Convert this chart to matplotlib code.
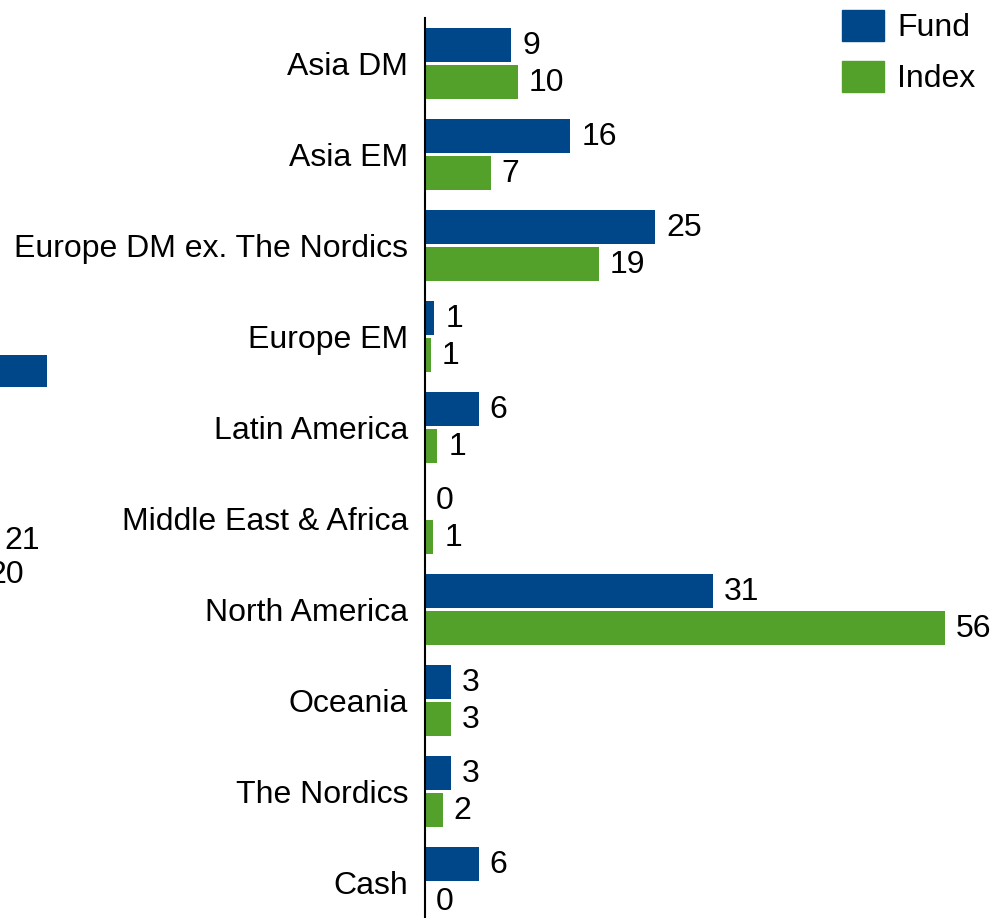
import matplotlib.pyplot as plt
from matplotlib.patches import Patch

plt.rcParams['font.family'] = ['Liberation Sans', 'DejaVu Sans']

# regional allocation, % of portfolio
regions = ['Asia DM', 'Asia EM', 'Europe DM ex. The Nordics', 'Europe EM',
           'Latin America', 'Middle East & Africa', 'North America',
           'Oceania', 'The Nordics', 'Cash']
fund = [9.3, 15.7, 24.9, 1.0, 5.8, 0.0, 31.1, 2.8, 2.8, 5.8]
index = [10.0, 7.1, 18.8, 0.6, 1.3, 0.9, 56.2, 2.8, 1.9, 0.0]

# piece of the neighbouring chart that shows at the left edge
neighbor_fund = [27.1, 21.3]
neighbor_index = [10, 19.6]

blue = '#004789'
green = '#53a12a'
fs = 23

W, H = 990, 918
fig = plt.figure(figsize=(W / 100, H / 100), dpi=100)

px = 9.25  # pixels per percentage point
top = 18

ax = fig.add_axes([425 / W, 0, (W - 425) / W, (H - top) / H])
ypos = list(range(len(regions)))
bh = 0.37
off = 0.205

ax.barh([y - off for y in ypos], fund, height=bh, color=blue)
ax.barh([y + off for y in ypos], index, height=bh, color=green)

for y, f, i in zip(ypos, fund, index):
    ax.annotate(f'{f:.0f}', (f, y - off), xytext=(8, -0.5), textcoords='offset points',
                va='center', ha='left', fontsize=fs)
    ax.annotate(f'{i:.0f}', (i, y + off), xytext=(8, -0.5), textcoords='offset points',
                va='center', ha='left', fontsize=fs)

ax.set_xlim(0, (W - 425) / px)
ax.set_ylim((H - top) / 91 - 0.5, -0.5)
ax.set_yticks(ypos)
ax.set_yticklabels(regions, fontsize=fs)
ax.tick_params(axis='y', length=0, pad=12)
ax.set_xticks([])
for s in ['top', 'right', 'bottom']:
    ax.spines[s].set_visible(False)
ax.spines['left'].set_linewidth(1.5)

# neighbouring chart fragment
ax2 = fig.add_axes([-204 / W, 1 - 640 / H, 300 / W, 340 / H])
ax2.barh([-0.103, 0.897], neighbor_fund, height=0.194, color=blue)
ax2.barh([0.103, 1.103], neighbor_index, height=0.194, color=green)
ax2.annotate(f'{neighbor_fund[1]:.0f}', (neighbor_fund[1], 0.897), xytext=(8, -3.5),
             textcoords='offset points', va='center', fontsize=fs)
ax2.annotate(f'{neighbor_index[1]:.0f}', (neighbor_index[1], 1.103), xytext=(8, -3.5),
             textcoords='offset points', va='center', fontsize=fs)
ax2.set_xlim(0, 300 / px)
ax2.set_ylim(1.527, -0.533)
ax2.axis('off')

handles = [Patch(color=blue, label='Fund'), Patch(color=green, label='Index')]
fig.legend(handles=handles, loc='upper left', bbox_to_anchor=(842 / W, 1 - 10 / H),
           frameon=False, fontsize=fs, borderpad=0, borderaxespad=0,
           handlelength=1.32, handleheight=1.12, handletextpad=0.4,
           labelspacing=0.55)

fig.savefig('out.png', dpi=100)
